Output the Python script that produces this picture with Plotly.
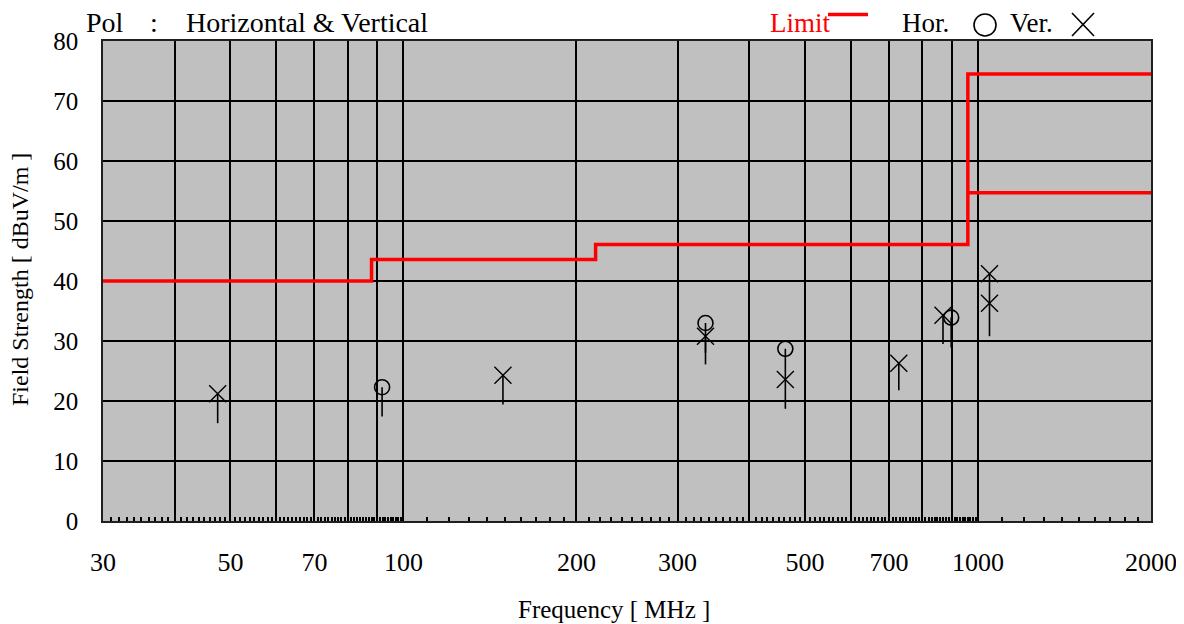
import plotly.graph_objects as go

# ---------------- data ----------------
limit_freq = [30, 88, 88, 216, 216, 960, 960, 2000]
limit_level = [40.0, 40.0, 43.6, 43.6, 46.1, 46.1, 74.5, 74.5]
limit_avg_freq = [960, 2000]
limit_avg_level = [54.7, 54.7]

hor_freq = [91.8, 335.5, 462, 898]
hor_level = [22.3, 33.0, 28.7, 33.9]
hor_low = [17.4, 28.0, 23.7, 28.9]

ver_freq = [47.5, 149, 335.5, 462, 728, 869, 1047, 1047]
ver_level = [21.2, 24.3, 30.8, 23.6, 26.3, 34.3, 41.2, 36.3]
ver_low = [16.3, 19.4, 26.1, 18.7, 21.8, 29.5, 36.3, 30.8]

x_label_vals = [30, 50, 70, 100, 200, 300, 500, 700, 1000, 2000]
x_grid_vals = [40, 50, 60, 70, 80, 90, 100, 200, 300, 400, 500, 600, 700, 800, 900, 1000]
y_tick_vals = [0, 10, 20, 30, 40, 50, 60, 70, 80]

minor_vals = ([f for f in range(31, 100)] + [f for f in range(110, 1000, 10)]
              + [f for f in range(1100, 2000, 100)])

FONT = "Liberation Serif, Times New Roman, serif"

# ---------------- figure ----------------
fig = go.Figure()

fig.add_trace(go.Scatter(x=limit_freq, y=limit_level, mode="lines",
                         line=dict(color="#ff0000", width=3.5), showlegend=False,
                         hoverinfo="skip"))
fig.add_trace(go.Scatter(x=limit_avg_freq, y=limit_avg_level, mode="lines",
                         line=dict(color="#ff0000", width=3.5), showlegend=False,
                         hoverinfo="skip"))

fig.add_trace(go.Scatter(
    x=ver_freq, y=ver_level, mode="markers", showlegend=False,
    marker=dict(symbol="x-thin", size=17, color="black",
                line=dict(color="black", width=1.4)),
    error_y=dict(type="data", symmetric=False,
                 array=[0] * len(ver_level),
                 arrayminus=[v - l for v, l in zip(ver_level, ver_low)],
                 width=0, thickness=1.6, color="black")))

fig.add_trace(go.Scatter(
    x=hor_freq, y=hor_level, mode="markers", showlegend=False,
    marker=dict(symbol="circle-open", size=15, color="black",
                line=dict(color="black", width=1.6)),
    error_y=dict(type="data", symmetric=False,
                 array=[0] * len(hor_level),
                 arrayminus=[v - l for v, l in zip(hor_level, hor_low)],
                 width=0, thickness=1.6, color="black")))

tickvals = sorted(set(x_label_vals + x_grid_vals))
ticktext = [str(v) if v in x_label_vals else "" for v in tickvals]

fig.update_xaxes(
    type="log", range=[1.4771213, 3.30103],
    tickmode="array", tickvals=tickvals, ticktext=ticktext,
    ticks="", ticklabelstandoff=17,
    showgrid=True, gridcolor="black", gridwidth=1.6,
    showline=True, linecolor="#202020", linewidth=1.5, mirror=True,
    zeroline=False,
    tickfont=dict(family=FONT, size=26, color="black"),
    minor=dict(tickmode="array", tickvals=minor_vals, ticks="inside",
               ticklen=4, tickwidth=1.5, tickcolor="black", showgrid=False),
)
fig.update_yaxes(
    range=[0, 80], tickmode="array", tickvals=y_tick_vals,
    ticks="", ticklabelstandoff=18,
    showgrid=True, gridcolor="black", gridwidth=1.6,
    showline=True, linecolor="#202020", linewidth=1.5, mirror=True,
    zeroline=False,
    tickfont=dict(family=FONT, size=25, color="black"),
)

# target plot-area pixel box in the screenshot; page body adds an 8px offset
OFF = 8
X0, X1, YT, YB = 103, 1151, 41, 521
W, H = 1184, 624
def px(x):
    return (x - X0) / (X1 - X0)
def py(y):
    return (YB - y) / (YB - YT)

ann = []
def text(s, x, y, size=28, color="black", xanchor="left", angle=0):
    ann.append(dict(text=s, x=px(x), y=py(y), xref="paper", yref="paper",
                    xanchor=xanchor, yanchor="middle", showarrow=False,
                    textangle=angle, font=dict(family=FONT, size=size, color=color)))

text("Pol", 84, 23)
text(":", 148, 23)
text("Horizontal &amp; Vertical", 184, 23)
text("Limit", 768, 23, size=27, color="#ff0000")
text("Hor.", 900, 23, size=27)
text("Ver.", 1008, 23, size=27)
text("Frequency [ MHz ]", 614, 609, size=25, xanchor="center")
text("Field Strength [ dBuV/m ]", 20, 280, size=24, xanchor="center", angle=-90)

shapes = [
    dict(type="line", xref="paper", yref="paper", x0=px(828), x1=px(868),
         y0=py(14.5), y1=py(14.5), line=dict(color="#ff0000", width=3.5)),
    dict(type="circle", xref="paper", yref="paper", x0=px(974), x1=px(996),
         y0=py(36), y1=py(14), line=dict(color="black", width=1.6)),
    dict(type="line", xref="paper", yref="paper", x0=px(1072), x1=px(1094),
         y0=py(13), y1=py(36), line=dict(color="black", width=1.6)),
    dict(type="line", xref="paper", yref="paper", x0=px(1072), x1=px(1094),
         y0=py(36), y1=py(13), line=dict(color="black", width=1.6)),
]

fig.update_layout(
    width=W, height=H,
    margin=dict(l=X0 - OFF, r=W - X1 + OFF, t=YT - OFF, b=H - YB + OFF, pad=0),
    plot_bgcolor="#c0c0c0", paper_bgcolor="white",
    font=dict(family=FONT, color="black"),
    annotations=ann, shapes=shapes,
)

fig.write_html("out.html")
